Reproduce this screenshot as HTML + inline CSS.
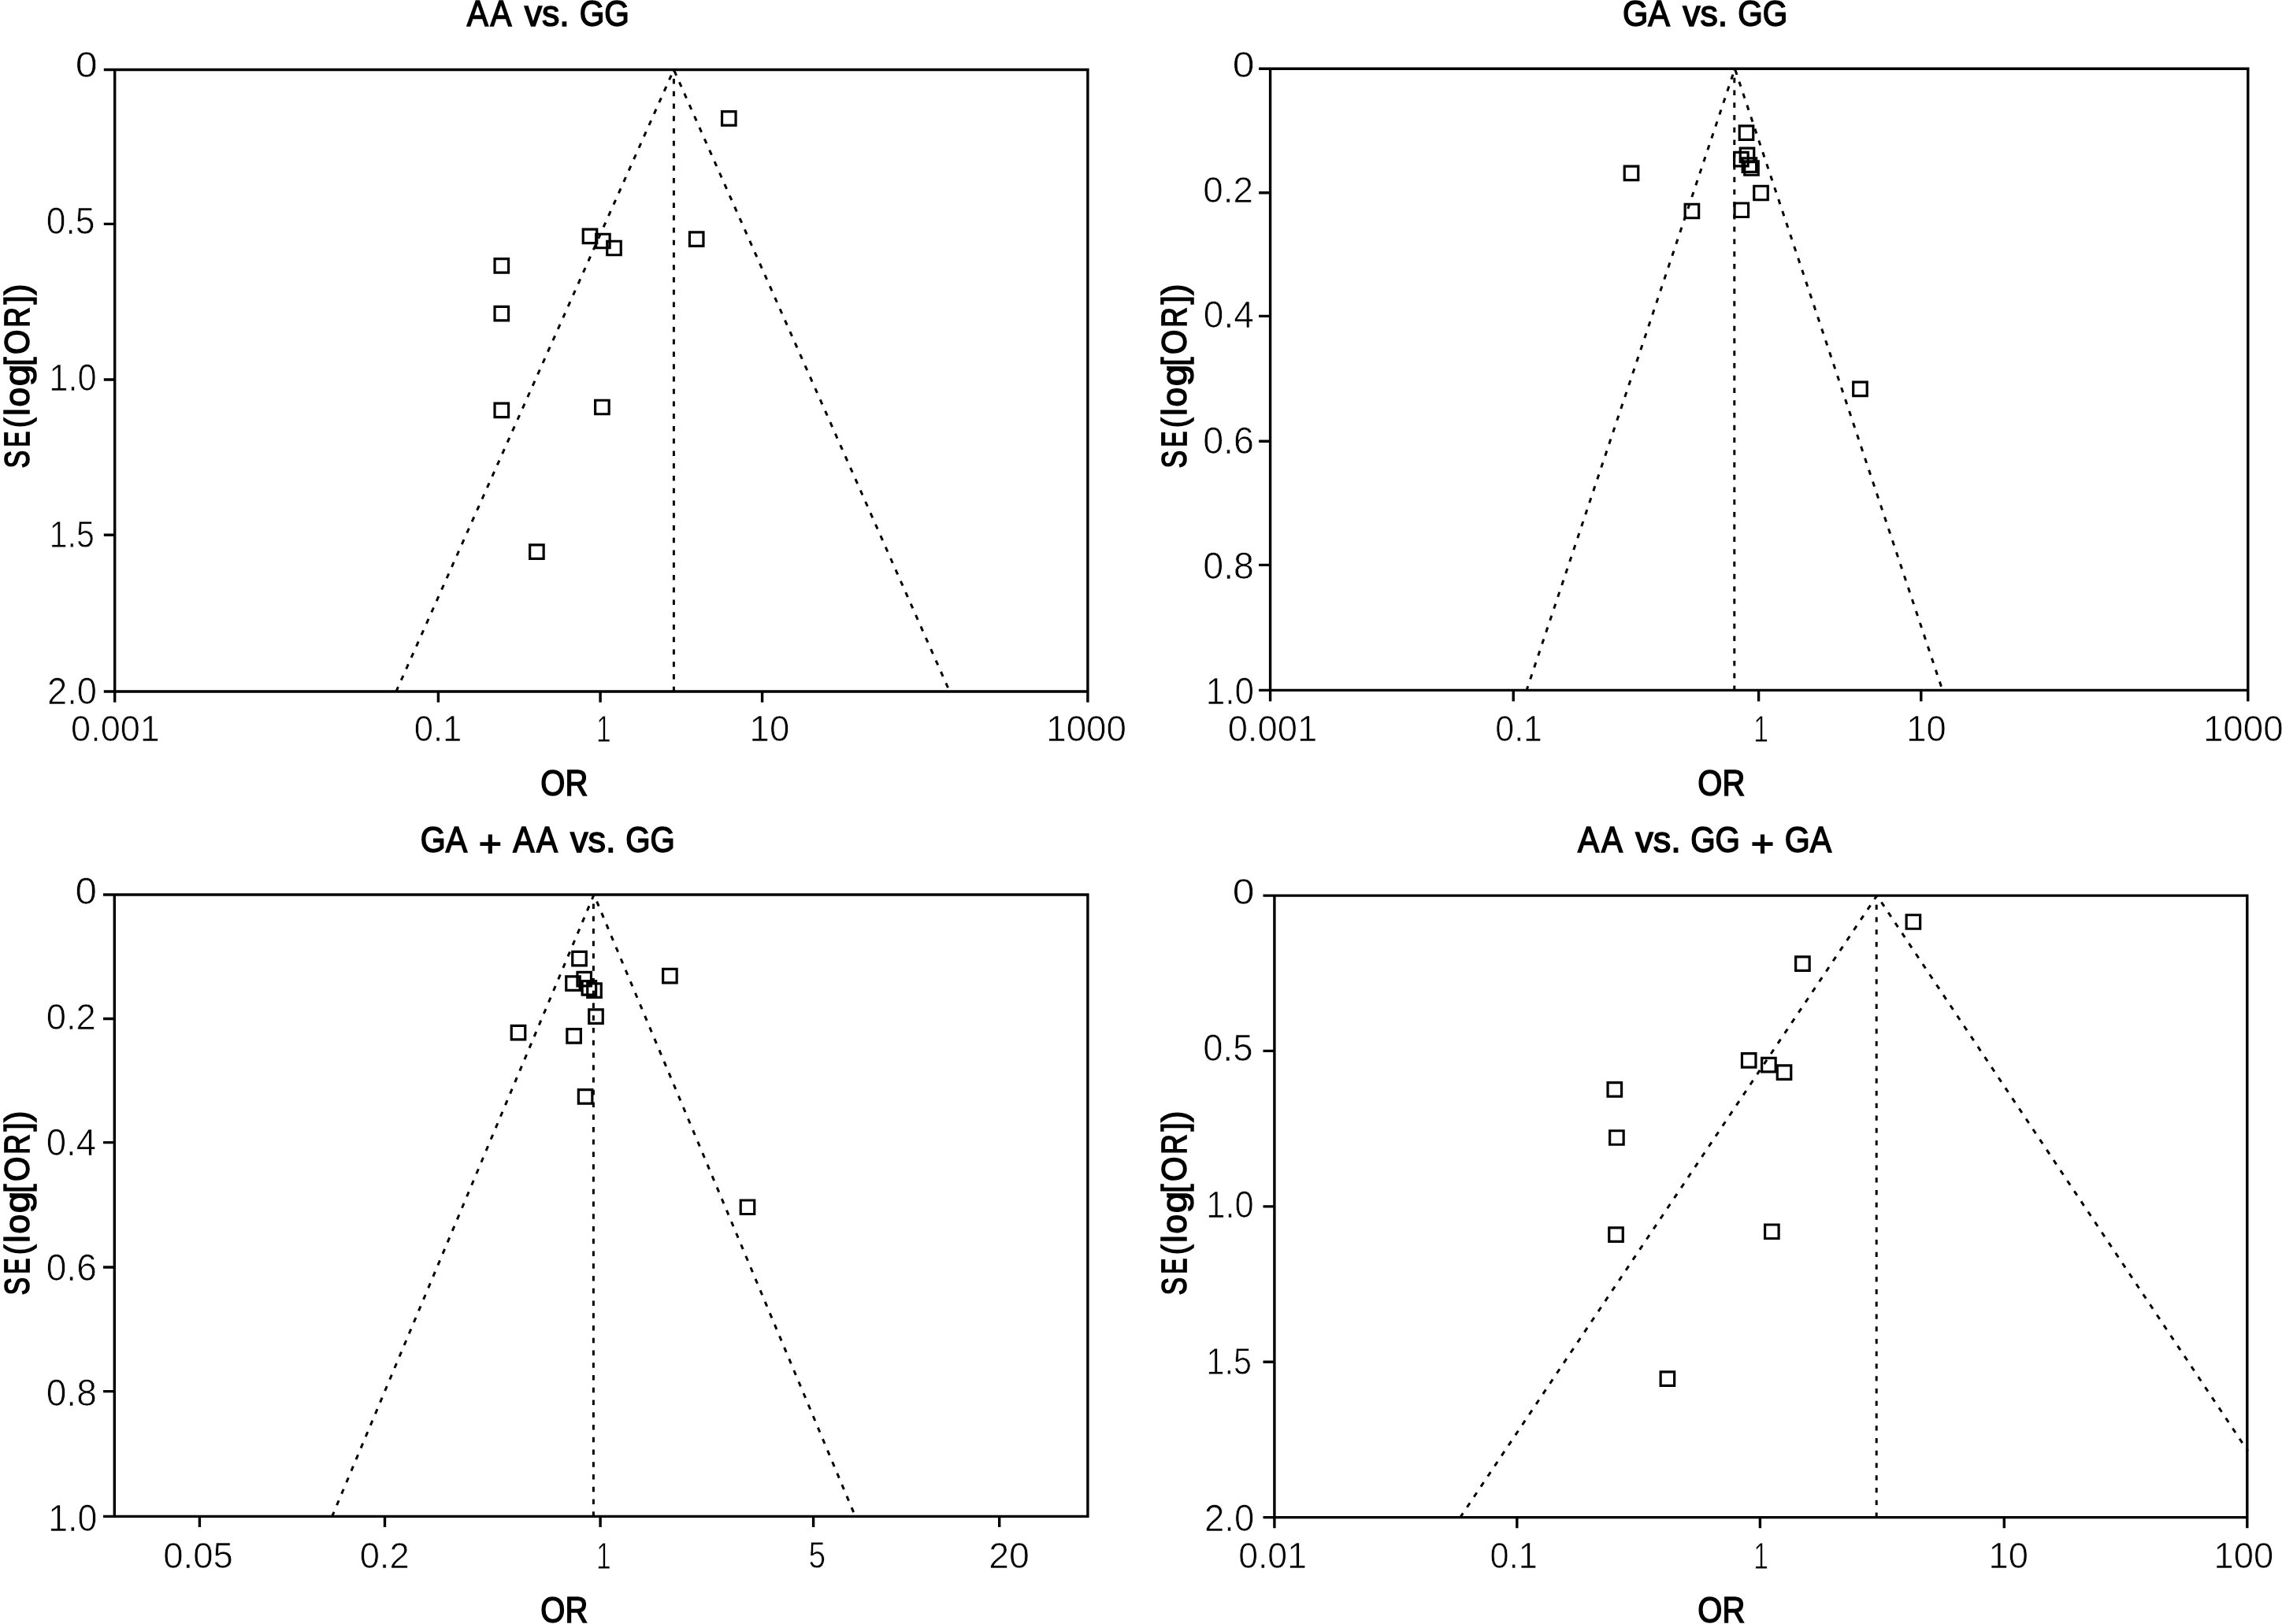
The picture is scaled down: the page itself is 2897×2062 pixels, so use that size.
<!DOCTYPE html>
<html><head><meta charset="utf-8"><title>Funnel plots</title>
<style>
html,body{margin:0;padding:0;background:#fff;}
body{width:2897px;height:2062px;overflow:hidden;}
svg{display:block;position:absolute;left:0;top:0;will-change:transform;}
text{font-family:"Liberation Sans",sans-serif;font-size:45px;fill:#000;}
text.b{stroke:#000;stroke-width:1.5;stroke-linejoin:miter;stroke-miterlimit:3;vector-effect:non-scaling-stroke;}
text.r{stroke:#fff;stroke-width:0.7;vector-effect:non-scaling-stroke;}
.s{fill:none;stroke:#000;stroke-width:3.4;stroke-linecap:butt;stroke-linejoin:miter;}
.d{fill:none;stroke:#000;stroke-width:3.0;stroke-dasharray:6.45 9.3;stroke-linejoin:bevel;}
.q{fill:none;stroke:#000;stroke-width:3.2;}
</style></head>
<body>
<svg width="2897" height="2062" viewBox="0 0 2897 2062">
<rect width="2897" height="2062" fill="#fff"/>
<path class="s" d="M145.7 88.5H1380.9V878H145.7ZM131.8 88.5H145.7M131.8 284.4H145.7M131.8 482H145.7M131.8 679.2H145.7M131.8 878H145.7M145.7 878V891.8M556.4 878V891.8M762.1 878V891.8M967.6 878V891.8M1380.9 878V891.8"/>
<path class="d" stroke-dashoffset="0.08" d="M502.9 878L855.4 88.5L1205.6 878"/>
<path class="d" stroke-dashoffset="4.2" d="M855.4 88.5V878"/>
<path class="q" d="M916.55 141.65h17.5v17.5h-17.5ZM740.25 291.05h17.5v17.5h-17.5ZM756.65 297.25h17.5v17.5h-17.5ZM770.75 306.25h17.5v17.5h-17.5ZM875.45 294.85h17.5v17.5h-17.5ZM628.05 328.55h17.5v17.5h-17.5ZM628.05 389.35h17.5v17.5h-17.5ZM628.05 512.15h17.5v17.5h-17.5ZM755.65 508.25h17.5v17.5h-17.5ZM672.65 691.95h17.5v17.5h-17.5Z"/>
<text class="r" transform="translate(95.64,97.58) scale(1.1169,1.0459)">0</text>
<text class="r" transform="translate(58.77,297.07) scale(0.9873,1.0679)">0.5</text>
<text class="r" transform="translate(62.29,495.88) scale(0.9654,1.0491)">1.0</text>
<text class="r" transform="translate(62.77,694.87) scale(0.9115,1.0737)">1.5</text>
<text class="r" transform="translate(60.09,893.78) scale(1.0066,1.0491)">2.0</text>
<text class="r" transform="translate(90.04,941.38) scale(1.0030,1.0397)">0.001</text>
<text class="r" transform="translate(525.71,941.38) scale(0.9691,1.0397)">0.1</text>
<text class="r" transform="translate(757.04,941.85) scale(0.7450,1.0699)">1</text>
<text class="r" transform="translate(951.53,941.38) scale(1.0136,1.0397)">10</text>
<text class="r" transform="translate(1328.22,941.38) scale(1.0153,1.0397)">1000</text>
<text class="b" transform="translate(37.25,374.46) rotate(-90) scale(0.9312,0.9988)">)</text>
<text class="b" transform="translate(37.25,386.34) rotate(-90) scale(0.8667,0.9988)">]</text>
<text class="b" transform="translate(37.25,415.87) rotate(-90) scale(0.7876,0.9988)">R</text>
<text class="b" transform="translate(37.25,449.98) rotate(-90) scale(0.9019,0.9988)">O</text>
<text class="b" transform="translate(37.25,464.61) rotate(-90) scale(0.8776,0.9988)">[</text>
<text class="b" transform="translate(37.25,490.27) rotate(-90) scale(1.1062,0.9988)">g</text>
<text class="b" transform="translate(37.25,516.54) rotate(-90) scale(0.9877,0.9988)">o</text>
<text class="b" transform="translate(37.25,527.7) rotate(-90) scale(0.9397,0.9988)">l</text>
<text class="b" transform="translate(37.25,543.33) rotate(-90) scale(0.8466,0.9988)">(</text>
<text class="b" transform="translate(37.25,567.41) rotate(-90) scale(0.6636,0.9988)">E</text>
<text class="b" transform="translate(37.25,594.48) rotate(-90) scale(0.7536,0.9988)">S</text>
<text class="b" transform="translate(592.85,32.95) scale(0.9057,1.0182)">A</text>
<text class="b" transform="translate(622.45,32.95) scale(0.8990,1.0182)">A</text>
<text class="b" transform="translate(665.73,32.95) scale(0.9922,1.0182)">vs.</text>
<text class="b" transform="translate(735.72,32.95) scale(0.9029,1.0182)">GG</text>
<text class="b" transform="translate(686.35,1010.15) scale(0.8889,1.0182)">OR</text>
<path class="s" d="M1612.6 87.3H2853.8V876.4H1612.6ZM1598.1 87.3H1612.6M1598.1 244.8H1612.6M1598.1 401.4H1612.6M1598.1 560.2H1612.6M1598.1 717.4H1612.6M1598.1 876.4H1612.6M1612.6 876.4V890.4M1921.2 876.4V890.4M2232.6 876.4V890.4M2438.8 876.4V890.4M2853.8 876.4V890.4"/>
<path class="d" stroke-dashoffset="0.98" d="M1938 876.4L2202.4 87.3L2466 876.4"/>
<path class="d" stroke-dashoffset="4.2" d="M2201.8 87.3V876.4"/>
<path class="q" d="M2208.25 159.95h17.5v17.5h-17.5ZM2209.25 188.05h17.5v17.5h-17.5ZM2201.65 193.35h17.5v17.5h-17.5ZM2212.15 200.95h17.5v17.5h-17.5ZM2214.75 204.75h17.5v17.5h-17.5ZM2062.25 211.15h17.5v17.5h-17.5ZM2226.75 236.25h17.5v17.5h-17.5ZM2139.15 259.25h17.5v17.5h-17.5ZM2202.05 258h17.5v17.5h-17.5ZM2352.7 485.1h17.5v17.5h-17.5Z"/>
<text class="r" transform="translate(1564.86,97.58) scale(1.1076,1.0459)">0</text>
<text class="r" transform="translate(1527.21,257.18) scale(1.0205,1.0459)">0.2</text>
<text class="r" transform="translate(1527.81,416.37) scale(1.0233,1.0742)">0.4</text>
<text class="r" transform="translate(1527.18,575.77) scale(1.0368,1.0616)">0.6</text>
<text class="r" transform="translate(1527.18,735.18) scale(1.0368,1.0522)">0.8</text>
<text class="r" transform="translate(1530.74,893.88) scale(0.9811,1.0491)">1.0</text>
<text class="r" transform="translate(1558.63,941.38) scale(1.0085,1.0397)">0.001</text>
<text class="r" transform="translate(1898.33,941.38) scale(0.9537,1.0397)">0.1</text>
<text class="r" transform="translate(2226.34,941.85) scale(0.7450,1.0699)">1</text>
<text class="r" transform="translate(2420.25,941.38) scale(1.0070,1.0397)">10</text>
<text class="r" transform="translate(2796.92,941.38) scale(1.0153,1.0397)">1000</text>
<text class="b" transform="translate(1506.25,374.46) rotate(-90) scale(0.9312,0.9988)">)</text>
<text class="b" transform="translate(1506.25,386.34) rotate(-90) scale(0.8667,0.9988)">]</text>
<text class="b" transform="translate(1506.25,415.87) rotate(-90) scale(0.7876,0.9988)">R</text>
<text class="b" transform="translate(1506.25,449.98) rotate(-90) scale(0.9019,0.9988)">O</text>
<text class="b" transform="translate(1506.25,464.61) rotate(-90) scale(0.8776,0.9988)">[</text>
<text class="b" transform="translate(1506.25,490.27) rotate(-90) scale(1.1062,0.9988)">g</text>
<text class="b" transform="translate(1506.25,516.54) rotate(-90) scale(0.9877,0.9988)">o</text>
<text class="b" transform="translate(1506.25,527.7) rotate(-90) scale(0.9397,0.9988)">l</text>
<text class="b" transform="translate(1506.25,543.33) rotate(-90) scale(0.8466,0.9988)">(</text>
<text class="b" transform="translate(1506.25,567.41) rotate(-90) scale(0.6636,0.9988)">E</text>
<text class="b" transform="translate(1506.25,594.48) rotate(-90) scale(0.7536,0.9988)">S</text>
<text class="b" transform="translate(2059.97,32.95) scale(0.9224,1.0182)">GA</text>
<text class="b" transform="translate(2136.23,32.95) scale(0.9922,1.0182)">vs.</text>
<text class="b" transform="translate(2206.23,32.95) scale(0.8998,1.0182)">GG</text>
<text class="b" transform="translate(2155.35,1010.15) scale(0.8889,1.0182)">OR</text>
<path class="s" d="M145.3 1136H1380.9V1925.4H145.3ZM131 1136H145.3M131 1293.5H145.3M131 1450.6H145.3M131 1609H145.3M131 1766.6H145.3M131 1925.4H145.3M253.4 1925.4V1939M488.5 1925.4V1939M762.1 1925.4V1939M1032.6 1925.4V1939M1268.7 1925.4V1939"/>
<path class="d" stroke-dashoffset="10.05" d="M1085.8 1925.4L754 1136L421.6 1925.4"/>
<path class="d" stroke-dashoffset="4.2" d="M753.4 1136V1925.4"/>
<path class="q" d="M726.75 1208.45h17.5v17.5h-17.5ZM732.95 1234.35h17.5v17.5h-17.5ZM718.75 1239.85h17.5v17.5h-17.5ZM739.15 1245.65h17.5v17.5h-17.5ZM745.75 1248.95h17.5v17.5h-17.5ZM841.65 1230.35h17.5v17.5h-17.5ZM747.75 1281.95h17.5v17.5h-17.5ZM649.25 1302.35h17.5v17.5h-17.5ZM719.85 1306.6h17.5v17.5h-17.5ZM734.35 1383.65h17.5v17.5h-17.5ZM940.25 1524h17.5v17.5h-17.5Z"/>
<text class="r" transform="translate(95.57,1147.67) scale(1.0983,1.0616)">0</text>
<text class="r" transform="translate(58.74,1307.18) scale(1.0068,1.0459)">0.2</text>
<text class="r" transform="translate(58.73,1466.57) scale(1.0132,1.0648)">0.4</text>
<text class="r" transform="translate(58.71,1625.77) scale(1.0249,1.0616)">0.6</text>
<text class="r" transform="translate(58.71,1785.18) scale(1.0249,1.0522)">0.8</text>
<text class="r" transform="translate(61.2,1944.47) scale(0.9933,1.0679)">1.0</text>
<text class="r" transform="translate(207.23,1991.28) scale(1.0128,1.0428)">0.05</text>
<text class="r" transform="translate(456.63,1991.28) scale(1.0085,1.0428)">0.2</text>
<text class="r" transform="translate(757.04,1991.75) scale(0.7450,1.0731)">1</text>
<text class="r" transform="translate(1026.39,1991.27) scale(0.8655,1.0577)">5</text>
<text class="r" transform="translate(1255.13,1991.28) scale(1.0323,1.0428)">20</text>
<text class="b" transform="translate(37.25,1424.46) rotate(-90) scale(0.9312,0.9988)">)</text>
<text class="b" transform="translate(37.25,1436.34) rotate(-90) scale(0.8667,0.9988)">]</text>
<text class="b" transform="translate(37.25,1465.87) rotate(-90) scale(0.7876,0.9988)">R</text>
<text class="b" transform="translate(37.25,1499.98) rotate(-90) scale(0.9019,0.9988)">O</text>
<text class="b" transform="translate(37.25,1514.61) rotate(-90) scale(0.8776,0.9988)">[</text>
<text class="b" transform="translate(37.25,1540.27) rotate(-90) scale(1.1062,0.9988)">g</text>
<text class="b" transform="translate(37.25,1566.54) rotate(-90) scale(0.9877,0.9988)">o</text>
<text class="b" transform="translate(37.25,1577.7) rotate(-90) scale(0.9397,0.9988)">l</text>
<text class="b" transform="translate(37.25,1593.33) rotate(-90) scale(0.8466,0.9988)">(</text>
<text class="b" transform="translate(37.25,1617.41) rotate(-90) scale(0.6636,0.9988)">E</text>
<text class="b" transform="translate(37.25,1644.48) rotate(-90) scale(0.7536,0.9988)">S</text>
<text class="b" transform="translate(533.8,1082.35) scale(0.9128,1.0182)">GA</text>
<text class="b" transform="translate(607.86,1087.15) scale(1.1088,1.0182)">+</text>
<text class="b" transform="translate(651.35,1082.35) scale(0.9057,1.0182)">A</text>
<text class="b" transform="translate(680.95,1082.35) scale(0.8990,1.0182)">A</text>
<text class="b" transform="translate(724.02,1082.35) scale(1.0016,1.0182)">vs.</text>
<text class="b" transform="translate(794.14,1082.35) scale(0.8936,1.0182)">GG</text>
<text class="b" transform="translate(686.35,2060.35) scale(0.8889,1.0182)">OR</text>
<path class="s" d="M1617.9 1137.1H2852.8V1926.6H1617.9ZM1603.5 1137.1H1617.9M1603.5 1334.4H1617.9M1603.5 1531.9H1617.9M1603.5 1729.2H1617.9M1603.5 1926.6H1617.9M1617.9 1926.6V1940.3M1925.8 1926.6V1940.3M2234.4 1926.6V1940.3M2544.3 1926.6V1940.3M2852.8 1926.6V1940.3"/>
<path class="d" stroke-dashoffset="3.35" d="M2853.6 1842.4L2382.8 1137.1L1853.8 1926.6"/>
<path class="d" stroke-dashoffset="4.2" d="M2382.2 1137.1V1926.6"/>
<path class="q" d="M2420.15 1161.75h17.5v17.5h-17.5ZM2279.65 1214.95h17.5v17.5h-17.5ZM2211.45 1337.65h17.5v17.5h-17.5ZM2236.65 1343.45h17.5v17.5h-17.5ZM2256.25 1352.85h17.5v17.5h-17.5ZM2041.05 1374.7h17.5v17.5h-17.5ZM2043.65 1435.75h17.5v17.5h-17.5ZM2042.75 1558.95h17.5v17.5h-17.5ZM2240.6 1555h17.5v17.5h-17.5ZM2108.15 1741.95h17.5v17.5h-17.5Z"/>
<text class="r" transform="translate(1564.86,1147.58) scale(1.1076,1.0459)">0</text>
<text class="r" transform="translate(1527.23,1347.07) scale(1.0127,1.0679)">0.5</text>
<text class="r" transform="translate(1531.29,1545.88) scale(0.9654,1.0491)">1.0</text>
<text class="r" transform="translate(1531.55,1744.87) scale(0.9185,1.0737)">1.5</text>
<text class="r" transform="translate(1528.97,1944.47) scale(1.0117,1.0679)">2.0</text>
<text class="r" transform="translate(1572.16,1991.28) scale(0.9918,1.0428)">0.01</text>
<text class="r" transform="translate(1891.51,1991.28) scale(0.9640,1.0428)">0.1</text>
<text class="r" transform="translate(2226.34,1991.75) scale(0.7450,1.0731)">1</text>
<text class="r" transform="translate(2524.55,1991.28) scale(1.0070,1.0428)">10</text>
<text class="r" transform="translate(2810.44,1991.28) scale(1.0089,1.0428)">100</text>
<text class="b" transform="translate(1506.25,1424.46) rotate(-90) scale(0.9312,0.9988)">)</text>
<text class="b" transform="translate(1506.25,1436.34) rotate(-90) scale(0.8667,0.9988)">]</text>
<text class="b" transform="translate(1506.25,1465.87) rotate(-90) scale(0.7876,0.9988)">R</text>
<text class="b" transform="translate(1506.25,1499.98) rotate(-90) scale(0.9019,0.9988)">O</text>
<text class="b" transform="translate(1506.25,1514.61) rotate(-90) scale(0.8776,0.9988)">[</text>
<text class="b" transform="translate(1506.25,1540.27) rotate(-90) scale(1.1062,0.9988)">g</text>
<text class="b" transform="translate(1506.25,1566.54) rotate(-90) scale(0.9877,0.9988)">o</text>
<text class="b" transform="translate(1506.25,1577.7) rotate(-90) scale(0.9397,0.9988)">l</text>
<text class="b" transform="translate(1506.25,1593.33) rotate(-90) scale(0.8466,0.9988)">(</text>
<text class="b" transform="translate(1506.25,1617.41) rotate(-90) scale(0.6636,0.9988)">E</text>
<text class="b" transform="translate(1506.25,1644.48) rotate(-90) scale(0.7536,0.9988)">S</text>
<text class="b" transform="translate(2003.05,1082.35) scale(0.9057,1.0182)">A</text>
<text class="b" transform="translate(2032.95,1082.35) scale(0.8990,1.0182)">A</text>
<text class="b" transform="translate(2076.23,1082.35) scale(0.9998,1.0182)">vs.</text>
<text class="b" transform="translate(2146.13,1082.35) scale(0.8967,1.0182)">GG</text>
<text class="b" transform="translate(2222.72,1087.15) scale(1.1226,1.0182)">+</text>
<text class="b" transform="translate(2265.8,1082.35) scale(0.9128,1.0182)">GA</text>
<text class="b" transform="translate(2155.35,2060.35) scale(0.8889,1.0182)">OR</text>
</svg>
</body></html>
